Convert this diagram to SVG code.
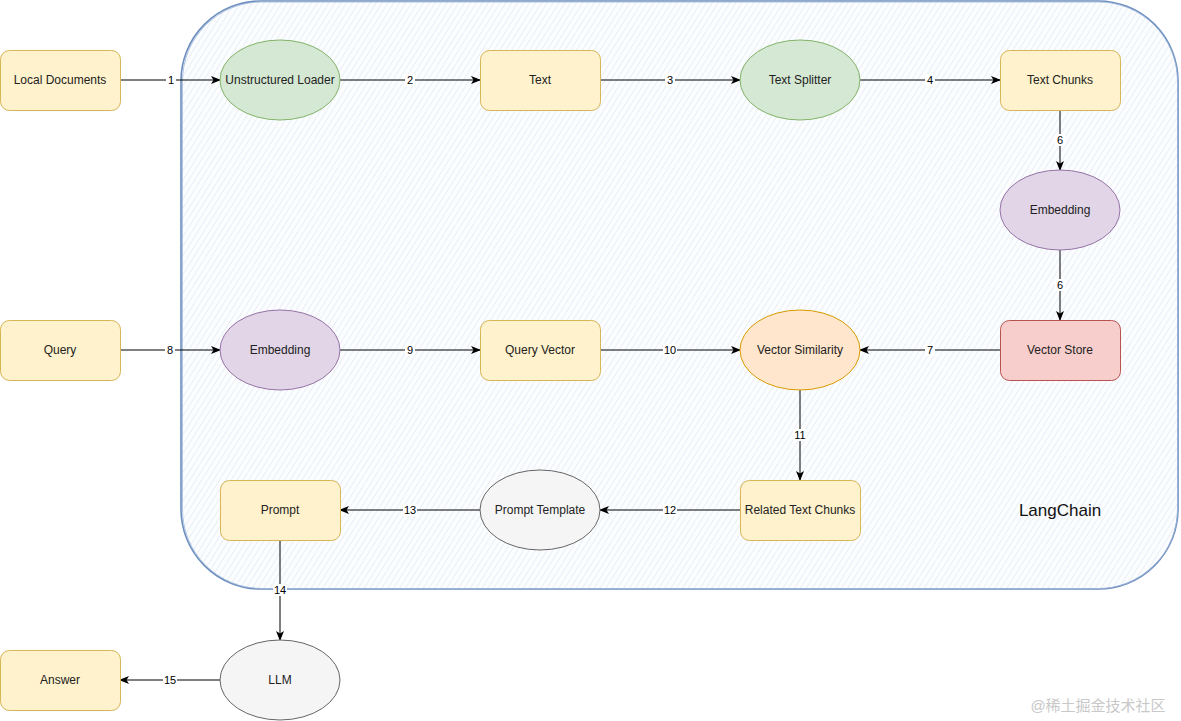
<svg xmlns="http://www.w3.org/2000/svg" width="1181" height="721" viewBox="0 0 1181 721">
<defs>
<pattern id="hatch" width="5" height="5" patternUnits="userSpaceOnUse" patternTransform="rotate(32)">
<line x1="0" y1="0" x2="0" y2="5" stroke="#cfdbea" stroke-width="0.8"/>
</pattern>
<marker id="arr" viewBox="0 0 10 10" refX="9" refY="5" markerWidth="10" markerHeight="10" markerUnits="userSpaceOnUse" orient="auto">
<path d="M0,1 L10,5 L0,9 L2.5,5 Z" fill="#000"/>
</marker>
<style>
.t{font-family:"Liberation Sans",Arial,sans-serif;font-size:12px;fill:#222;text-anchor:middle;dominant-baseline:central}
.yel{fill:#fff2cc;stroke:#d6b656;stroke-width:1}
.grn{fill:#d5e8d4;stroke:#82b366;stroke-width:1}
.pur{fill:#e1d5e7;stroke:#9673a6;stroke-width:1}
.red{fill:#f8cecc;stroke:#b85450;stroke-width:1}
.org{fill:#ffe6cc;stroke:#d79b00;stroke-width:1}
.gry{fill:#f5f5f5;stroke:#666666;stroke-width:1}
.e{stroke:#000;stroke-width:1;fill:none;marker-end:url(#arr)}
.lb{fill:#fff}
.lt{font-family:"Liberation Sans",Arial,sans-serif;font-size:11px;fill:#000;text-anchor:middle;dominant-baseline:central}
</style>
</defs>
<rect width="1181" height="721" fill="#fff"/>
<g id="langchain">
<rect x="181" y="1" width="997" height="588" rx="80" fill="#fbfdff"/>
<rect x="181" y="1" width="997" height="588" rx="80" fill="url(#hatch)"/>
<rect x="181" y="1" width="997" height="588" rx="80" fill="none" stroke="#6c8ebf" stroke-width="1.6"/>
<rect x="182.5" y="2" width="995" height="586.5" rx="79" fill="none" stroke="#9fb6d8" stroke-width="0.8"/>
<text x="1060" y="510" font-family="'Liberation Sans',Arial,sans-serif" font-size="17" fill="#111" text-anchor="middle" dominant-baseline="central">LangChain</text>
</g>
<g id="connectors">
<line class="e" x1="120" y1="80" x2="220" y2="80"/>
<line class="e" x1="340" y1="80" x2="480" y2="80"/>
<line class="e" x1="600" y1="80" x2="740" y2="80"/>
<line class="e" x1="860" y1="80" x2="1000" y2="80"/>
<line class="e" x1="1060" y1="110" x2="1060" y2="170"/>
<line class="e" x1="1060" y1="250" x2="1060" y2="320"/>
<line class="e" x1="1000" y1="350" x2="860" y2="350"/>
<line class="e" x1="120" y1="350" x2="220" y2="350"/>
<line class="e" x1="340" y1="350" x2="480" y2="350"/>
<line class="e" x1="600" y1="350" x2="740" y2="350"/>
<line class="e" x1="800" y1="390" x2="800" y2="480"/>
<line class="e" x1="740" y1="510" x2="600" y2="510"/>
<line class="e" x1="480" y1="510" x2="340" y2="510"/>
<line class="e" x1="280" y1="540" x2="280" y2="640"/>
<line class="e" x1="220" y1="680" x2="120" y2="680"/>
<g>
<rect class="lb" x="166" y="74" width="10" height="12"/><text class="lt" x="171" y="80">1</text>
<rect class="lb" x="405" y="74" width="10" height="12"/><text class="lt" x="410" y="80">2</text>
<rect class="lb" x="665" y="74" width="10" height="12"/><text class="lt" x="670" y="80">3</text>
<rect class="lb" x="925" y="74" width="10" height="12"/><text class="lt" x="930" y="80">4</text>
<rect class="lb" x="1055" y="134" width="10" height="12"/><text class="lt" x="1060" y="140">6</text>
<rect class="lb" x="1055" y="279" width="10" height="12"/><text class="lt" x="1060" y="285">6</text>
<rect class="lb" x="925" y="344" width="10" height="12"/><text class="lt" x="930" y="350">7</text>
<rect class="lb" x="165" y="344" width="10" height="12"/><text class="lt" x="170" y="350">8</text>
<rect class="lb" x="405" y="344" width="10" height="12"/><text class="lt" x="410" y="350">9</text>
<rect class="lb" x="663" y="344" width="14" height="12"/><text class="lt" x="670" y="350">10</text>
<rect class="lb" x="793" y="429" width="14" height="12"/><text class="lt" x="800" y="435">11</text>
<rect class="lb" x="663" y="504" width="14" height="12"/><text class="lt" x="670" y="510">12</text>
<rect class="lb" x="403" y="504" width="14" height="12"/><text class="lt" x="410" y="510">13</text>
<rect class="lb" x="273" y="584" width="14" height="12"/><text class="lt" x="280" y="590">14</text>
<rect class="lb" x="163" y="674" width="14" height="12"/><text class="lt" x="170" y="680">15</text>
</g>
</g>
<g id="local-documents"><rect class="yel" x="0.5" y="50.5" width="120" height="60" rx="9"/><text class="t" x="60" y="80">Local Documents</text></g>
<g id="unstructured-loader"><ellipse class="grn" cx="280" cy="80" rx="60" ry="40"/><text class="t" x="280" y="80">Unstructured Loader</text></g>
<g id="text"><rect class="yel" x="480.5" y="50.5" width="120" height="60" rx="9"/><text class="t" x="540" y="80">Text</text></g>
<g id="text-splitter"><ellipse class="grn" cx="800" cy="80" rx="60" ry="40"/><text class="t" x="800" y="80">Text Splitter</text></g>
<g id="text-chunks"><rect class="yel" x="1000.5" y="50.5" width="120" height="60" rx="9"/><text class="t" x="1060" y="80">Text Chunks</text></g>
<g id="embedding-1"><ellipse class="pur" cx="1060" cy="210" rx="60" ry="40"/><text class="t" x="1060" y="210">Embedding</text></g>
<g id="vector-store"><rect class="red" x="1000.5" y="320.5" width="120" height="60" rx="9"/><text class="t" x="1060" y="350">Vector Store</text></g>
<g id="query"><rect class="yel" x="0.5" y="320.5" width="120" height="60" rx="9"/><text class="t" x="60" y="350">Query</text></g>
<g id="embedding-2"><ellipse class="pur" cx="280" cy="350" rx="60" ry="40"/><text class="t" x="280" y="350">Embedding</text></g>
<g id="query-vector"><rect class="yel" x="480.5" y="320.5" width="120" height="60" rx="9"/><text class="t" x="540" y="350">Query Vector</text></g>
<g id="vector-similarity"><ellipse class="org" cx="800" cy="350" rx="60" ry="40"/><text class="t" x="800" y="350">Vector Similarity</text></g>
<g id="related-text-chunks"><rect class="yel" x="740.5" y="480.5" width="120" height="60" rx="9"/><text class="t" x="800" y="510">Related Text Chunks</text></g>
<g id="prompt-template"><ellipse class="gry" cx="540" cy="510" rx="60" ry="40"/><text class="t" x="540" y="510" fill="#333">Prompt Template</text></g>
<g id="prompt"><rect class="yel" x="220.5" y="480.5" width="120" height="60" rx="9"/><text class="t" x="280" y="510">Prompt</text></g>
<g id="llm"><ellipse class="gry" cx="280" cy="680" rx="60" ry="40"/><text class="t" x="280" y="680">LLM</text></g>
<g id="answer"><rect class="yel" x="0.5" y="650.5" width="120" height="60" rx="9"/><text class="t" x="60" y="680">Answer</text></g>
<text x="1098" y="705" font-family="'Liberation Sans','Noto Sans CJK SC',sans-serif" font-size="15" fill="#c8c8c8" text-anchor="middle" dominant-baseline="central">@稀土掘金技术社区</text>
</svg>
